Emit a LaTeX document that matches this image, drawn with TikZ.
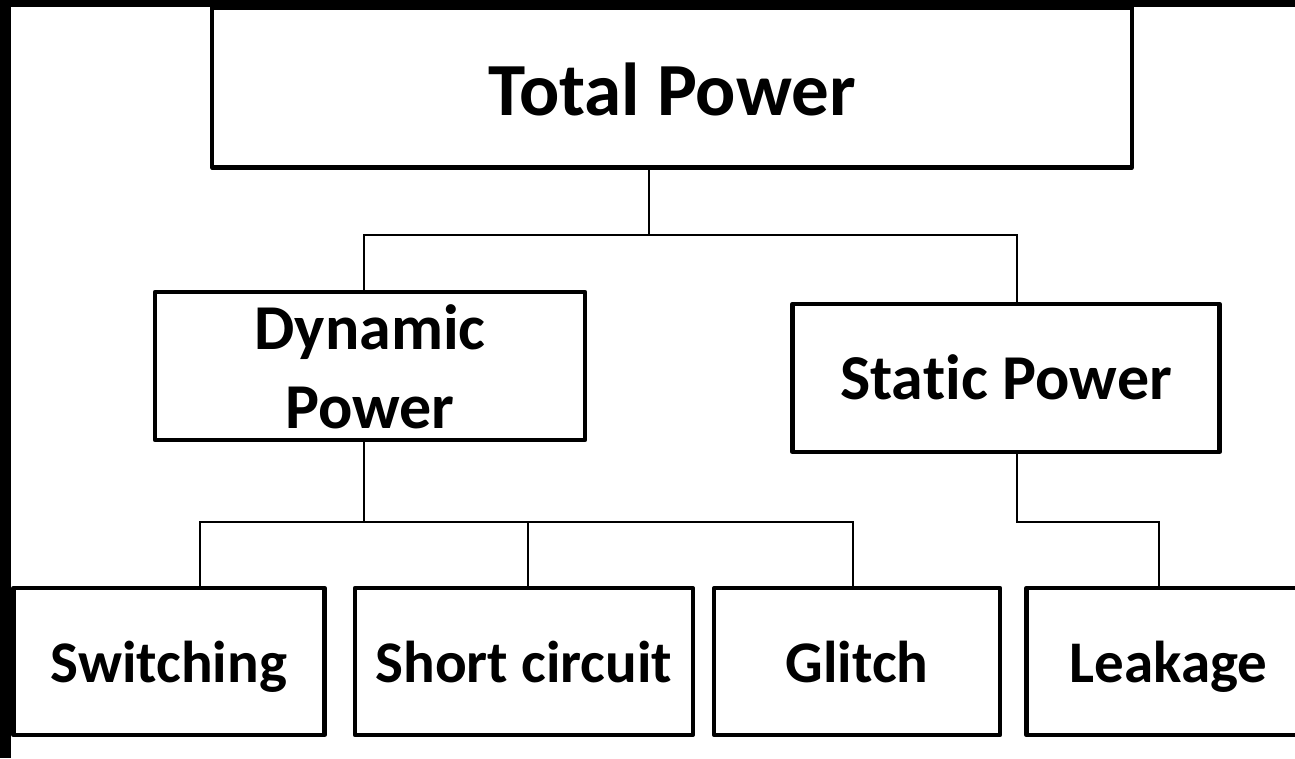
\documentclass[tikz,border=0pt]{standalone}
\usepackage{fontspec}
\setmainfont{Carlito}[Ligatures=NoCommon]
\usetikzlibrary{positioning}

\begin{document}
\begin{tikzpicture}[
    x=0.02cm, y=-0.02cm,
    node distance=0.5cm,
    block/.style={rectangle, draw, line width=0.088cm, line join=round, inner sep=0pt, align=center},
    rootbox/.style={block, minimum width=18.4cm, minimum height=3.2cm, text height=1.14cm, text depth=0pt, font=\bfseries\fontsize{42.7}{50}\selectfont},
    midbox/.style={block, minimum height=2.96cm, font=\bfseries\fontsize{36.4}{45}\selectfont},
    leafbox/.style={block, minimum height=2.94cm, text height=0.82cm, text depth=0pt, font=\bfseries\fontsize{33.6}{40}\selectfont},
    wire/.style={line width=0.03cm}
]
\useasboundingbox (0,0) rectangle (1295,758);

% Frame
\fill (0,0) rectangle (1295,7);
\fill (0,0) rectangle (11,758);

% Levels
\node[rootbox] (total) at (672,87.5) {Total Power};
\node[midbox, minimum width=8.6cm] (dyn) at (370,366) {\rule{0pt}{0.92cm}Dynamic\\Power};
\node[midbox, minimum width=8.54cm, text height=0.84cm, text depth=0pt] (stat) at (1006,378) {Sta\kern0pt tic Power};

\node[leafbox, minimum width=6.22cm] (sw) at (169,661.5) {Switching};
\node[leafbox, minimum width=6.76cm, right=0.52cm of sw] (sc) {Short circuit};
\node[leafbox, minimum width=5.72cm, right=0.34cm of sc] (gl) {Glitch};
\node[leafbox, minimum width=5.68cm, right=0.44cm of gl] (lk) {Leakage};

% Taps and buses
\coordinate (busA) at (649,235);
\coordinate (busB) at (364,522);
\coordinate (busC) at (1017,522);
\coordinate (dynTap) at (364,0);
\coordinate (statTap) at (1017,0);
\coordinate (swTap) at (200,0);
\coordinate (scTap) at (528,0);
\coordinate (glTap) at (853,0);
\coordinate (lkTap) at (1159,0);

% Connectors
\draw[wire] (total.south -| busA) -- (busA);
\draw[wire] (dyn.north -| dynTap) |- (busA) -| (stat.north -| statTap);
\draw[wire] (dyn.south -| dynTap) -- (busB);
\draw[wire] (sw.north -| swTap) |- (busB) -| (gl.north -| glTap);
\draw[wire] (sc.north -| scTap) -- (scTap |- busB);
\draw[wire] (stat.south -| statTap) -- (busC) -| (lk.north -| lkTap);

\end{tikzpicture}
\end{document}
